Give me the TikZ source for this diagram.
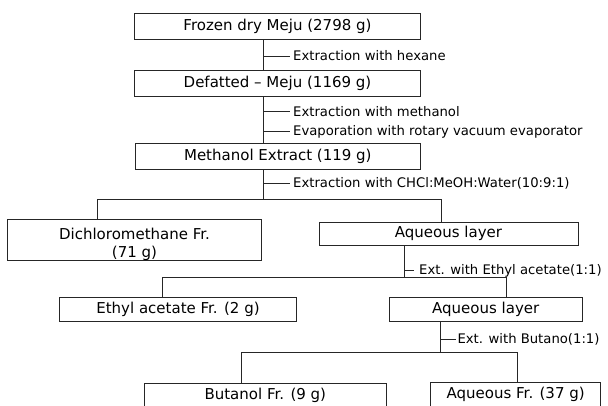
\documentclass[tikz,border=0pt]{standalone}
\usepackage{fontspec}
\setmainfont{DejaVu Sans}
\begin{document}
\begin{tikzpicture}[x=1pt,y=-1pt,
  box/.style={draw=black!85,line width=0.7pt,rectangle,inner sep=0pt,
    font=\fontsize{15}{18.5}\selectfont,text=black,align=center},
  lbl/.style={anchor=west,inner sep=0pt,font=\fontsize{13.2}{15}\selectfont,text=black},
  ln/.style={draw=black!85,line width=0.7pt}]
\clip (0,0) rectangle (608,405);
\fill[white] (0,0) rectangle (608,405);
% boxes
\node[box,minimum width=286.4pt,minimum height=26pt] (b1) at (277.5,26.3) {Frozen dry Meju (2798 g)};
\node[box,minimum width=286.4pt,minimum height=26pt] (b2) at (277.5,83.7) {Defatted -- Meju (1169 g)};
\node[box,minimum width=285.7pt,minimum height=26pt] (b3) at (277.8,156.3) {Methanol Extract (119 g)};
\node[box,minimum width=254.4pt,minimum height=36.6pt] (dcm) at (134.5,240) {\rule{0pt}{20pt}Dichloromethane Fr.\\(71 g)};
\node[box,minimum width=259pt,minimum height=22.3pt] (aq1) at (448.5,233.85) {Aqueous layer};
\node[box,minimum width=237.4pt,minimum height=24pt] (ea) at (178,309.7) {Ethyl acetate Fr. (2 g)};
\node[box,minimum width=193.3pt,minimum height=24pt] (aq2) at (485.7,309.7) {Aqueous layer};
\node[box,minimum width=242.7pt,minimum height=24pt] (bu) at (265.3,395.3) {Butanol Fr. (9 g)};
\node[box,minimum width=170pt,minimum height=24pt] (aqf) at (515.7,394.7) {Aqueous Fr. (37 g)};
% junction coordinates
\coordinate (j1) at (263.3,199);
\coordinate (bl1) at (97,199);
\coordinate (br1) at (441.7,199);
\coordinate (j2) at (404,277.3);
\coordinate (bl2) at (162.3,277.3);
\coordinate (br2) at (506.7,277.3);
\coordinate (j3) at (440.7,352.7);
\coordinate (bl3) at (241.7,352.7);
\coordinate (br3) at (517.3,352.7);
% labels
\node[lbl] (l1) at (293,56) {Extraction with hexane};
\node[lbl] (l2) at (293,111.7) {Extraction with methanol};
\node[lbl] (l3) at (293,131.7) {Evaporation with rotary vacuum evaporator};
\node[lbl] (l4) at (293,183.3) {Extraction with CHCl:MeOH:Water(10:9:1)};
\node[lbl] (l5) at (419,270.7) {Ext. with Ethyl acetate(1:1)};
\node[lbl] (l6) at (457.3,339.3) {Ext. with Butano(1:1)};
% main spine
\draw[ln] (b1.south -| j1) -- (b2.north -| j1);
\draw[ln] (b2.south -| j1) -- (b3.north -| j1);
\draw[ln] (b3.south -| j1) -- (j1);
% ticks
\draw[ln] (l1.west -| j1) -- ([xshift=-3pt]l1.west);
\draw[ln] (l2.west -| j1) -- ([xshift=-3pt]l2.west);
\draw[ln] (l3.west -| j1) -- ([xshift=-3pt]l3.west);
\draw[ln] (l4.west -| j1) -- ([xshift=-3pt]l4.west);
% branch 1
\draw[ln] (dcm.north -| bl1) -- (bl1) -- (br1) -- (aq1.north -| br1);
% second level
\draw[ln] (aq1.south -| j2) -- (j2);
\draw[ln] (l5.west -| j2) -- ([xshift=-5pt]l5.west);
\draw[ln] (ea.north -| bl2) -- (bl2) -- (br2) -- (aq2.north -| br2);
% third level
\draw[ln] (aq2.south -| j3) -- (j3);
\draw[ln] (l6.west -| j3) -- ([xshift=-1.6pt]l6.west);
\draw[ln] (bu.north -| bl3) -- (bl3) -- (br3) -- (aqf.north -| br3);
\end{tikzpicture}
\end{document}
